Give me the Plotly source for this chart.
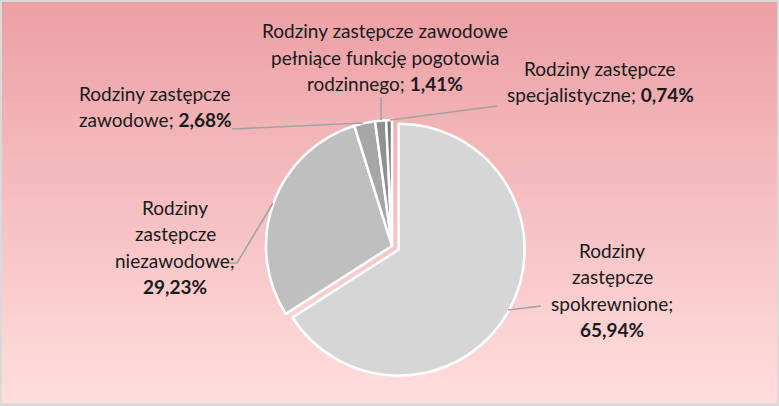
import plotly.graph_objects as go

W, H = 779, 406

# ---- data ----
categories = [
    "Rodziny zastępcze spokrewnione",
    "Rodziny zastępcze niezawodowe",
    "Rodziny zastępcze zawodowe",
    "Rodziny zastępcze zawodowe pełniące funkcję pogotowia rodzinnego",
    "Rodziny zastępcze specjalistyczne",
]
values = [65.94, 29.23, 2.68, 1.41, 0.74]
label_lines = [
    ["Rodziny", "zastępcze", "spokrewnione;"],
    ["Rodziny", "zastępcze", "niezawodowe;"],
    ["Rodziny zastępcze", "zawodowe;"],
    ["Rodziny zastępcze zawodowe", "pełniące funkcję pogotowia", "rodzinnego;"],
    ["Rodziny zastępcze", "specjalistyczne;"],
]
colors = ["#D6D6D6", "#BFBFBF", "#A6A6A6", "#8F8F8F", "#707C79"]
pulls = [0.06, 0, 0, 0, 0]

def pct(v):
    return f"{v:.2f}".replace(".", ",") + "%"

# ---- layout helpers (pixel -> paper) ----
def px(x):
    return x / W

def py(y):
    return 1 - y / H

fig = go.Figure()

r = 126
half = r * (1 + max(pulls))
cx, cy = 392, 246
fig.add_trace(go.Pie(
    labels=categories,
    values=values,
    sort=False,
    direction="clockwise",
    rotation=0,
    pull=pulls,
    marker=dict(colors=colors, line=dict(color="white", width=2.5)),
    textinfo="none",
    hoverinfo="label+percent",
    showlegend=False,
    domain=dict(x=[px(cx - half), px(cx + half)], y=[py(cy + half), py(cy - half)]),
))

# ---- background gradient + frame ----
shapes = []
top = (236, 160, 165)
bot = (255, 221, 221)
n = 60
x0, x1, y0, y1 = 2, 777, 2, 403
for i in range(n):
    t = i / (n - 1)
    c = tuple(round(top[k] + (bot[k] - top[k]) * t) for k in range(3))
    ya = y0 + (y1 - y0) * i / n
    yb = y0 + (y1 - y0) * (i + 1) / n + 0.6
    shapes.append(dict(type="rect", xref="paper", yref="paper",
                       x0=px(x0), x1=px(x1), y0=py(min(yb, y1)), y1=py(ya),
                       fillcolor=f"rgb{c}", line=dict(width=0), layer="below"))

lc = "#A3A3A3"
def path(pts):
    d = "M " + " L ".join(f"{px(a)},{py(b)}" for a, b in pts)
    return dict(type="path", xref="paper", yref="paper", path=d,
                line=dict(color=lc, width=1.6), layer="above")

shapes += [
    path([(508, 310), (541, 306)]),
    path([(226, 263), (237, 263), (273, 203)]),
    path([(232, 129), (363, 123)]),
    path([(381, 97), (381, 120)]),
    path([(497, 106), (390, 120)]),
]

# ---- labels ----
label_pos = [
    (612, 250),
    (175, 207),
    (155, 93),
    (385, 31),
    (600, 68),
]
step = 26.5
font = dict(family="Lato, 'Open Sans', sans-serif", size=19, color="#1A1A1A")
annotations = []
for i, lines in enumerate(label_lines):
    cxl, y = label_pos[i]
    txts = list(lines)
    if len(txts) >= 3 and i < 2:
        txts = txts + [f"<b>{pct(values[i])}</b>"]
    else:
        txts[-1] = txts[-1] + f" <b>{pct(values[i])}</b>"
    for j, t in enumerate(txts):
        annotations.append(dict(x=px(cxl), y=py(y + j * step), xref="paper", yref="paper",
                                text=t, showarrow=False, xanchor="center", yanchor="middle",
                                font=font))

fig.update_layout(
    width=W, height=H,
    margin=dict(l=0, r=0, t=0, b=0),
    paper_bgcolor="#D9D9D9",
    plot_bgcolor="rgba(0,0,0,0)",
    shapes=shapes,
    annotations=annotations,
)

fig.write_html("out.html")
